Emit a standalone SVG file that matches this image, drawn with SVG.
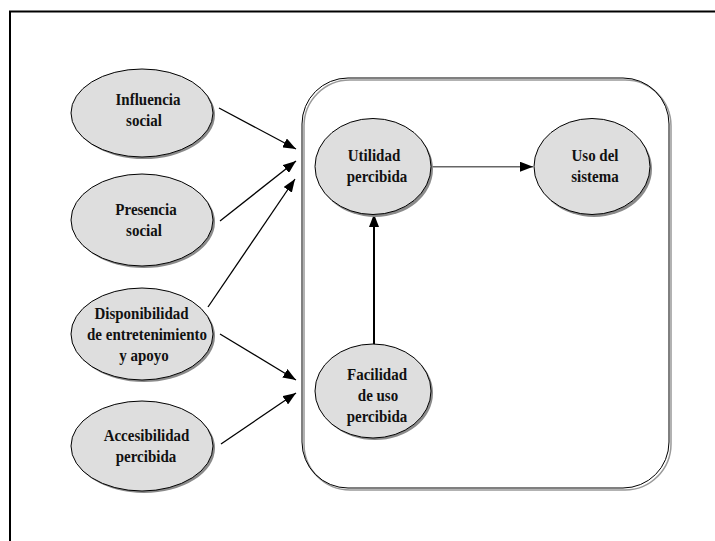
<svg xmlns="http://www.w3.org/2000/svg" width="715" height="541" viewBox="0 0 715 541">
<style>
.sh{fill:#8a8a8a;stroke:none}
.el{fill:#dedede;stroke:#000;stroke-width:1}
.t{font-family:"Liberation Serif","Times New Roman",serif;font-weight:bold;font-size:15px;fill:#111;text-anchor:middle}
.ln{stroke:#000;stroke-width:1.3;fill:none}
</style>
<defs>
<marker id="ah" viewBox="0 0 13 10" refX="13" refY="5" markerWidth="13" markerHeight="10" markerUnits="userSpaceOnUse" orient="auto">
<path d="M0,0 L13,5 L0,10 Z" fill="#000"/>
</marker>
</defs>
<rect width="715" height="541" fill="#fff"/>
<path d="M10,541 V11.5 H715" fill="none" stroke="#000" stroke-width="2"/>
<g id="system">
<rect x="304" y="80" width="367" height="410" rx="46" ry="46" fill="none" stroke="#999" stroke-width="1.5"/>
<rect x="302" y="78" width="367" height="410" rx="46" ry="46" fill="none" stroke="#000" stroke-width="1"/>
</g>
<g id="connectors">
<line class="ln" x1="219" y1="108" x2="296" y2="149" marker-end="url(#ah)"/>
<line class="ln" x1="220" y1="221" x2="296" y2="161" marker-end="url(#ah)"/>
<line class="ln" x1="208" y1="307" x2="295" y2="179" marker-end="url(#ah)"/>
<line class="ln" x1="220" y1="334" x2="296" y2="380" marker-end="url(#ah)"/>
<line class="ln" x1="221" y1="444" x2="296" y2="393" marker-end="url(#ah)"/>
<line x1="432" y1="166.7" x2="533" y2="166.7" stroke="#666" stroke-width="1.6" marker-end="url(#ah)"/>
<line x1="374" y1="345" x2="374" y2="214" stroke="#000" stroke-width="2" marker-end="url(#ah)"/>
</g>
<g id="influencia">
<ellipse class="sh" cx="144" cy="115" rx="71" ry="44"/>
<ellipse class="el" cx="142" cy="113" rx="71" ry="44"/>
<text class="t" transform="translate(148 105) scale(1 1.12)">Influencia</text>
<text class="t" transform="translate(144 126) scale(1 1.12)">social</text>
</g>
<g id="presencia">
<ellipse class="sh" cx="144" cy="222" rx="71" ry="46"/>
<ellipse class="el" cx="142" cy="220" rx="71" ry="46"/>
<text class="t" transform="translate(146 215) scale(1 1.12)">Presencia</text>
<text class="t" transform="translate(144 236) scale(1 1.12)">social</text>
</g>
<g id="disponibilidad">
<ellipse class="sh" cx="144" cy="336" rx="71" ry="46"/>
<ellipse class="el" cx="142" cy="334" rx="71" ry="46"/>
<text class="t" transform="translate(141.5 319) scale(1 1.12)">Disponibilidad</text>
<text class="t" transform="translate(147 340) scale(1 1.12)">de entretenimiento</text>
<text class="t" transform="translate(144 361) scale(1 1.12)">y apoyo</text>
</g>
<g id="accesibilidad">
<ellipse class="sh" cx="144" cy="448" rx="71" ry="45"/>
<ellipse class="el" cx="142" cy="446" rx="71" ry="45"/>
<text class="t" transform="translate(146.5 441) scale(1 1.12)">Accesibilidad</text>
<text class="t" transform="translate(146 462) scale(1 1.12)">percibida</text>
</g>
<g id="utilidad">
<ellipse class="sh" cx="375" cy="169" rx="58" ry="48"/>
<ellipse class="el" cx="373" cy="166.5" rx="58" ry="48"/>
<text class="t" transform="translate(374 161) scale(1 1.12)">Utilidad</text>
<text class="t" transform="translate(377 182) scale(1 1.12)">percibida</text>
</g>
<g id="uso">
<ellipse class="sh" cx="594" cy="169" rx="58" ry="48"/>
<ellipse class="el" cx="592" cy="166.5" rx="58" ry="48"/>
<text class="t" transform="translate(595 161) scale(1 1.12)">Uso del</text>
<text class="t" transform="translate(595 182) scale(1 1.12)">sistema</text>
</g>
<g id="facilidad">
<ellipse class="sh" cx="375" cy="393" rx="58" ry="47"/>
<ellipse class="el" cx="373" cy="391" rx="58" ry="47"/>
<text class="t" transform="translate(377 380) scale(1 1.12)">Facilidad</text>
<text class="t" transform="translate(378 401) scale(1 1.12)">de uso</text>
<text class="t" transform="translate(377 422) scale(1 1.12)">percibida</text>
</g>
</svg>
